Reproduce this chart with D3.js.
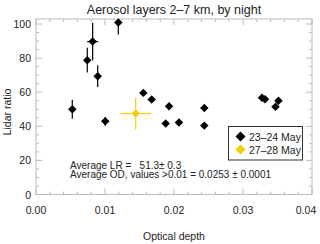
<!DOCTYPE html>
<html><head><meta charset="utf-8">
<script src="https://cdn.jsdelivr.net/npm/d3@7"></script>
<style>body{margin:0;background:#fff}svg{display:block;font-family:"Liberation Sans",Arial,sans-serif}</style>
</head><body><svg id="c" width="320" height="244"></svg>
<script>
const title = "Aerosol layers 2\u20137 km, by night";
const xLabel = "Optical depth";
const yLabel = "Lidar ratio";
const xTicks = [0, 0.01, 0.02, 0.03, 0.04];
const xTickLabels = ["0.00", "0.01", "0.02", "0.03", "0.04"];
const yTicks = [0, 20, 40, 60, 80, 100];
const seriesNames = ["23\u201324 May", "27\u201328 May"];
// series 1: 23-24 May
const od1 = [0.00526, 0.00743, 0.00821, 0.00894, 0.01193, 0.01004, 0.01555, 0.01677, 0.01928, 0.0188, 0.02072, 0.02439, 0.02439, 0.03275, 0.03319, 0.03514, 0.03471];
const lr1 = [50.0, 78.8, 89.7, 69.4, 100.9, 42.9, 59.6, 55.7, 51.8, 41.6, 42.2, 50.8, 40.4, 56.8, 55.9, 55.0, 51.5];
const lrErr1 = [5.5, 7.3, 11.1, 6.4, 7.0, 2.6, 1, 1, 1, 1, 1, 1, 1, 1, 1, 1, 1];
const odErr1 = [0.0003, 0.0003, 0.0008, 0.0003, 0.0003, 0.0003, 0, 0, 0, 0, 0, 0, 0, 0, 0, 0, 0];
// series 2: 27-28 May
const od2 = [0.01445];
const lr2 = [47.5];
const lrErr2 = [9.2];
const odErr2 = [0.0022];
const annot = ["Average LR =   51.3\u00b1 0.3", "Average OD, values >0.01 = 0.0253 \u00b1 0.0001"];

const svg = d3.select("#c");
const L = 36, R = 312, T = 19, B = 194.5;
const x = d3.scaleLinear().domain([0, 0.04]).range([L, R]);
const y = d3.scaleLinear().domain([0, 100]).range([B, 24]);
const axisCol = "#bbbbbb";
const txtCol = "#222";

const g = svg.append("g");
const xMinor = d3.range(0, 0.04001, 0.002);
const yMinor = d3.range(0, 101, 5);
xMinor.forEach(v => {
  const major = xTicks.some(t => Math.abs(t - v) < 1e-9);
  const len = major ? 6 : 3;
  g.append("line").attr("x1", x(v)).attr("x2", x(v)).attr("y1", B).attr("y2", B - len).attr("stroke", axisCol);
  g.append("line").attr("x1", x(v)).attr("x2", x(v)).attr("y1", T).attr("y2", T + len).attr("stroke", axisCol);
});
yMinor.forEach(v => {
  const major = yTicks.includes(v);
  const len = major ? 6 : 3;
  g.append("line").attr("y1", y(v)).attr("y2", y(v)).attr("x1", L).attr("x2", L + len).attr("stroke", axisCol);
  g.append("line").attr("y1", y(v)).attr("y2", y(v)).attr("x1", R).attr("x2", R - len).attr("stroke", axisCol);
});
g.append("rect").attr("x", L).attr("y", T).attr("width", R - L).attr("height", B - T)
  .attr("fill", "none").attr("stroke", axisCol);

xTicks.forEach((v, i) => {
  svg.append("text").attr("x", Math.min(x(v), 306)).attr("y", 214).attr("text-anchor", "middle")
    .attr("font-size", 10.5).attr("fill", txtCol).text(xTickLabels[i]);
});
yTicks.forEach(v => {
  svg.append("text").attr("x", 31).attr("y", y(v) + 4).attr("text-anchor", "end")
    .attr("font-size", 10.5).attr("fill", txtCol).text(v);
});
svg.append("text").attr("x", 174).attr("y", 14).attr("text-anchor", "middle")
  .attr("font-size", 12.5).attr("fill", txtCol).text(title);
svg.append("text").attr("x", 174).attr("y", 240).attr("text-anchor", "middle")
  .attr("font-size", 10.5).attr("fill", txtCol).text(xLabel);
svg.append("text").attr("transform", "translate(11,112) rotate(-90)").attr("text-anchor", "middle")
  .attr("font-size", 10.5).attr("fill", txtCol).text(yLabel);

function drawSeries(od, lr, lrE, odE, col) {
  const gs = svg.append("g");
  od.forEach((v, i) => {
    const cx = x(v), cy = y(lr[i]);
    const yt = Math.max(T, y(lr[i] + lrE[i]));
    gs.append("line").attr("x1", cx).attr("x2", cx).attr("y1", yt).attr("y2", y(lr[i] - lrE[i]))
      .attr("stroke", col).attr("stroke-width", 1.2);
    if (odE[i] > 0) gs.append("line").attr("x1", x(v - odE[i])).attr("x2", x(v + odE[i])).attr("y1", cy).attr("y2", cy)
      .attr("stroke", col).attr("stroke-width", 1.2);
    gs.append("path").attr("d", d3.symbol().type(d3.symbolSquare).size(36)())
      .attr("transform", `translate(${cx},${cy}) rotate(45)`).attr("fill", col);
  });
}
drawSeries(od1, lr1, lrErr1, odErr1, "#000");
drawSeries(od2, lr2, lrErr2, odErr2, "#f2d000");

svg.append("rect").attr("x", 228.5).attr("y", 126.5).attr("width", 74).attr("height", 33.5)
  .attr("fill", "#fff").attr("stroke", "#333").attr("stroke-width", 1);
[["#000", 136.5], ["#f2d000", 149.5]].forEach((d, i) => {
  svg.append("path").attr("d", d3.symbol().type(d3.symbolSquare).size(50)())
    .attr("transform", `translate(240.5,${d[1]}) rotate(45)`).attr("fill", d[0]);
  svg.append("text").attr("x", 249).attr("y", d[1] + 4).attr("font-size", 10.5).attr("fill", txtCol).text(seriesNames[i]);
});

annot.forEach((t, i) => {
  svg.append("text").attr("x", 70).attr("y", 169 + i * 9).attr("font-size", 10).attr("fill", txtCol)
    .attr("xml:space", "preserve").style("white-space", "pre").text(t);
});
</script></body></html>
